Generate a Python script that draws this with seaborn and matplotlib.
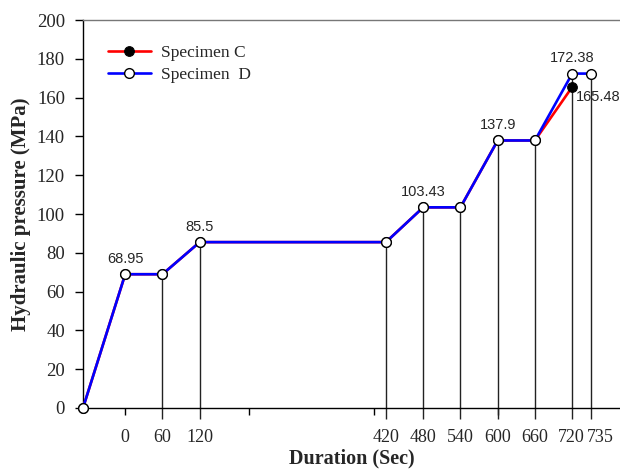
import matplotlib
matplotlib.use("Agg")
import matplotlib.pyplot as plt
import seaborn as sns
import pandas as pd

# ---------------- data ----------------
duration_d = [-68, 0, 60, 120, 420, 480, 540, 600, 660, 720, 750]
pressure_d = [0, 68.95, 68.95, 85.5, 85.5, 103.43, 103.43, 137.9, 137.9, 172.38, 172.38]
duration_c = [-68, 0, 60, 120, 420, 480, 540, 600, 660, 720]
pressure_c = [0, 68.95, 68.95, 85.5, 85.5, 103.43, 103.43, 137.9, 137.9, 165.48]

xtick_pos = [0, 60, 120, 420, 480, 540, 600, 660, 720, 750]
xtick_labels = ["0", "60", "120", "420", "480", "540", "600", "660", "720", "735"]

drop_x = [60, 120, 420, 480, 540, 600, 660, 720, 750]
drop_y = [68.95, 85.5, 85.5, 103.43, 103.43, 137.9, 137.9, 172.38, 172.38]

annot_x = [0, 120, 480, 600, 720]
annot_y = [68.95, 85.5, 103.43, 137.9, 172.38]
annot_text = ["68.95", "85.5", "103.43", "137.9", "172.38"]
annot_c_x, annot_c_y, annot_c_text = 720, 165.48, "165.48"

df_c = pd.DataFrame({"Duration": duration_c, "Pressure": pressure_c})
df_d = pd.DataFrame({"Duration": duration_d, "Pressure": pressure_d})

# ---------------- style ----------------
sns.set_style("white")
plt.rcParams["font.family"] = ["Liberation Serif", "DejaVu Serif"]

fig = plt.figure(figsize=(6.2, 4.7), dpi=100)
ax = fig.add_axes([83 / 620, 62 / 470, 537 / 620, 388 / 470])

# drop lines
ax.vlines(drop_x, -5.5, drop_y, colors="#222222", linewidth=1.0, clip_on=False, zorder=1)

sns.lineplot(data=df_c, x="Duration", y="Pressure", ax=ax, sort=False,
             color="red", linewidth=1.9, marker="o", markersize=7,
             markerfacecolor="black", markeredgecolor="black",
             label="Specimen C", zorder=3, clip_on=False)
sns.lineplot(data=df_d, x="Duration", y="Pressure", ax=ax, sort=False,
             color="blue", linewidth=1.9, marker="o", markersize=7,
             markerfacecolor="white", markeredgecolor="black", markeredgewidth=1.0,
             label="Specimen  D", zorder=4, clip_on=False)

ax.set_xlim(-68, 797)
ax.set_ylim(0, 200)
ax.set_yticks(range(0, 201, 20))
ax.set_xticks([0, 200, 400, 600])
ax.set_xticklabels([])
ax.tick_params(axis="y", direction="out", length=6, width=1, color="black",
               labelsize=13.5, left=True, pad=7)
ax.tick_params(axis="x", direction="out", length=5, width=1, color="black", bottom=True)

for s in ["left", "bottom"]:
    ax.spines[s].set_color("black")
    ax.spines[s].set_linewidth(1.0)
ax.spines["top"].set_color("#777777")
ax.spines["top"].set_linewidth(1.0)
ax.spines["right"].set_visible(False)

# x labels as text at the drop positions (last one nudged right as in the original)
trans = ax.get_xaxis_transform()
label_nudge = [0, 0, 0, 0, 0, 0, 0, 0, -1, 7]
for xp, lab, dx in zip(xtick_pos, xtick_labels, label_nudge):
    ax.annotate(lab, (xp, 0), xycoords=trans, xytext=(dx, -21), textcoords="offset points",
                ha="center", va="center", fontsize=13)

ax.set_xlabel("Duration (Sec)", fontsize=14.5, fontweight="bold", labelpad=21)
ax.set_ylabel("Hydraulic pressure (MPa)", fontsize=15, fontweight="bold", labelpad=4)

for xa, ya, t in zip(annot_x, annot_y, annot_text):
    ax.annotate(t, (xa, ya), xytext=(0, 6), textcoords="offset points",
                ha="center", va="bottom", fontsize=10.5, family="Liberation Sans")
ax.annotate(annot_c_text, (annot_c_x, annot_c_y), xytext=(3, -7), textcoords="offset points",
            ha="left", va="center", fontsize=10.5, family="Liberation Sans")

leg = ax.legend(loc="upper left", bbox_to_anchor=(0.017, 0.975), frameon=False,
                fontsize=12.5, handlelength=2.5, handletextpad=0.55, labelspacing=0.3)

fig.savefig("out.png", dpi=100)
